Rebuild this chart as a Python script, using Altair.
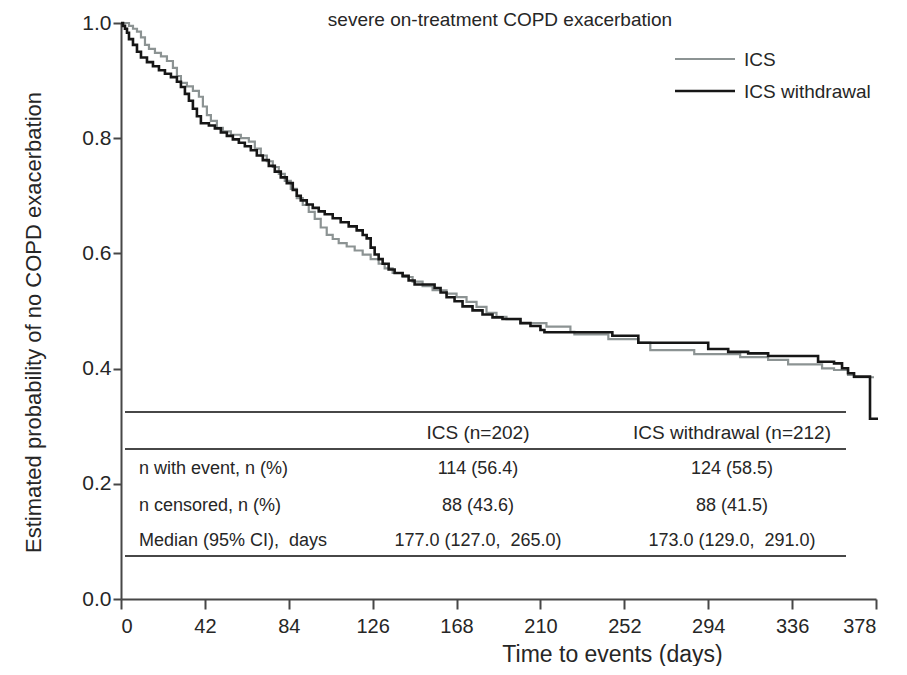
import altair as alt
import pandas as pd

# ---------------- data ----------------
series_names = ["ICS", "ICS withdrawal"]

ics_days = [0, 4, 6, 8, 10, 12, 14, 17, 20, 23, 26, 28, 30, 33, 36, 39, 41, 43, 45, 48,
            51, 55, 60, 64, 67, 70, 73, 76, 79, 82, 85, 88, 91, 94, 97, 100, 103, 106, 109, 113,
            117, 121, 125, 129, 132, 136, 141, 146, 151, 156, 163, 168, 173, 178, 183, 188, 193, 200, 213, 225,
            227, 244, 259, 265, 287, 310, 324, 334, 351, 357, 364, 367, 377]
ics_surv = [1.0, 0.995, 0.99, 0.985, 0.975, 0.962, 0.955, 0.948, 0.942, 0.934,
            0.922, 0.908, 0.896, 0.89, 0.882, 0.872, 0.855, 0.84, 0.83, 0.818,
            0.812, 0.806, 0.8, 0.794, 0.782, 0.77, 0.76, 0.75, 0.738, 0.726,
            0.712, 0.696, 0.684, 0.672, 0.66, 0.645, 0.632, 0.625, 0.618, 0.612,
            0.605, 0.598, 0.59, 0.582, 0.574, 0.566, 0.559, 0.551, 0.543, 0.536,
            0.53, 0.524, 0.516, 0.507, 0.497, 0.49, 0.486, 0.479, 0.473, 0.464,
            0.4595, 0.451, 0.445, 0.432, 0.425, 0.42, 0.415, 0.4075, 0.4005, 0.3976,
            0.389, 0.385, 0.385]

wd_days = [0, 1, 2, 3, 4, 6, 8, 10, 13, 16, 19, 22, 25, 28, 30, 32, 34, 36, 38, 40,
           44, 47, 50, 53, 56, 59, 62, 65, 68, 71, 74, 77, 80, 83, 86, 88, 90, 93, 96, 99,
           102, 106, 110, 114, 118, 121, 123, 125, 127, 129, 131, 134, 137, 141, 144, 147, 157, 160, 163, 167,
           171, 176, 181, 186, 191, 200, 205, 210, 212, 246, 259, 294, 304, 314, 324, 349, 357, 361, 364, 367,
           375, 379]
wd_surv = [1.0, 0.995, 0.99, 0.983, 0.972, 0.962, 0.95, 0.94, 0.932, 0.925,
           0.918, 0.912, 0.906, 0.898, 0.889, 0.877, 0.865, 0.851, 0.838, 0.826,
           0.822, 0.817, 0.81, 0.804, 0.798, 0.792, 0.786, 0.779, 0.77, 0.762,
           0.752, 0.742, 0.732, 0.722, 0.71, 0.7, 0.692, 0.685, 0.679, 0.673,
           0.668, 0.661, 0.654, 0.647, 0.64, 0.632, 0.626, 0.61, 0.598, 0.59,
           0.582, 0.572, 0.566, 0.561, 0.553, 0.546, 0.54, 0.532, 0.524, 0.517,
           0.508, 0.501, 0.494, 0.489, 0.486, 0.479, 0.474, 0.467, 0.463, 0.457,
           0.445, 0.434, 0.429, 0.4265, 0.422, 0.412, 0.409, 0.4005, 0.392, 0.386,
           0.313, 0.313]

x_ticks = [0, 42, 84, 126, 168, 210, 252, 294, 336, 378]
y_ticks = [0.0, 0.2, 0.4, 0.6, 0.8, 1.0]

title_text = "severe on-treatment COPD exacerbation"
x_title = "Time to events (days)"
y_title = "Estimated probability of no COPD exacerbation"

table_header = ["ICS (n=202)", "ICS withdrawal (n=212)"]
row_labels = ["n with event, n (%)", "n censored, n (%)", "Median (95% CI),\u00a0 days"]
ics_col = ["114 (56.4)", "88 (43.6)", "177.0 (127.0,\u00a0 265.0)"]
wd_col = ["124 (58.5)", "88 (41.5)", "173.0 (129.0,\u00a0 291.0)"]

# ---------------- layout / style ----------------
PLOT_W, PLOT_H = 755, 576
X_MAX = 378
FONT = "Liberation Sans"
COLORS = ["#8c9393", "#161616"]
WIDTHS = [2.2, 2.6]
TXT = "#262626"
LINE = "#474747"


def d(px):  # plot-relative pixel -> day
    return px * X_MAX / PLOT_W


def p(py):  # plot-relative pixel -> probability
    return 1 - py / PLOT_H


TABLE_LINE_Y = [389, 426, 533]
TABLE_LINE_X = (4, 725)
HEADER_Y = 410
ROW_Y = [446, 483, 518]
LABEL_X = 18
COL_X = [357, 611]
LEG_Y = [36, 68]
LEG_X = (554, 614)
LEG_TX = 623

color_scale = alt.Scale(domain=series_names, range=COLORS)
width_scale = alt.Scale(domain=series_names, range=WIDTHS)


def X():
    return alt.X("day:Q", scale=alt.Scale(domain=[0, X_MAX], nice=False, zero=False),
                 axis=alt.Axis(values=x_ticks, title=x_title, format="d",
                               tickSize=10, labelPadding=7, titleX=491, titleY=62,
                               titleAlign="center", titleBaseline="alphabetic",
                               titleFontSize=23))


def Y():
    return alt.Y("surv:Q", scale=alt.Scale(domain=[0, 1], nice=False),
                 axis=alt.Axis(values=y_ticks, title=y_title, format=".1f",
                               tickSize=8, labelPadding=2, labelFontSize=21,
                               titleX=-88, titleY=299, titleAngle=-90,
                               titleAlign="center", titleBaseline="middle",
                               titleFontSize=22))


curves = pd.concat([
    pd.DataFrame({"day": ics_days, "surv": ics_surv, "series": series_names[0]}),
    pd.DataFrame({"day": wd_days, "surv": wd_surv, "series": series_names[1]}),
])

lines = alt.Chart(curves).mark_line(interpolate="step-after").encode(
    x=X(), y=Y(),
    color=alt.Color("series:N", scale=color_scale, legend=None),
    strokeWidth=alt.StrokeWidth("series:N", scale=width_scale, legend=None),
    order=alt.Order("day:Q"),
)
ics_layer = lines.transform_filter(alt.datum.series == series_names[0])
wd_layer = lines.transform_filter(alt.datum.series == series_names[1])

# legend (drawn by hand, top right)
leg_df = pd.DataFrame({
    "series": series_names,
    "day": [d(LEG_X[0])] * 2,
    "day2": [d(LEG_X[1])] * 2,
    "lx": [d(LEG_TX)] * 2,
    "surv": [p(v) for v in LEG_Y],
})
leg_lines = alt.Chart(leg_df).mark_rule().encode(
    x=X(), x2="day2:Q", y=Y(),
    color=alt.Color("series:N", scale=color_scale, legend=None),
    strokeWidth=alt.StrokeWidth("series:N", scale=width_scale, legend=None),
)
leg_text = alt.Chart(leg_df).mark_text(
    align="left", baseline="middle", font=FONT, fontSize=19, color=TXT, dy=1
).encode(x=alt.X("lx:Q", scale=alt.Scale(domain=[0, X_MAX], nice=False, zero=False)),
         y=Y(), text="series:N")

# summary table
tl_df = pd.DataFrame({"day": [d(TABLE_LINE_X[0])] * 3, "day2": [d(TABLE_LINE_X[1])] * 3,
                      "surv": [p(v) for v in TABLE_LINE_Y]})
table_lines = alt.Chart(tl_df).mark_rule(color=LINE, strokeWidth=2.2).encode(
    x=X(), x2="day2:Q", y=Y())

hdr_df = pd.DataFrame({"txt": table_header, "day": [d(v) for v in COL_X],
                       "surv": [p(HEADER_Y)] * 2})
hdr = alt.Chart(hdr_df).mark_text(
    align="center", baseline="middle", font=FONT, fontSize=19, color=TXT
).encode(x=X(), y=Y(), text="txt:N")

lab_df = pd.DataFrame({"txt": row_labels, "day": [d(LABEL_X)] * 3,
                       "surv": [p(v) for v in ROW_Y]})
labs = alt.Chart(lab_df).mark_text(
    align="left", baseline="middle", font=FONT, fontSize=18, color=TXT
).encode(x=X(), y=Y(), text="txt:N")

val_df = pd.DataFrame({
    "txt": ics_col + wd_col,
    "day": [d(COL_X[0])] * 3 + [d(COL_X[1])] * 3,
    "surv": [p(v) for v in ROW_Y] * 2,
})
vals = alt.Chart(val_df).mark_text(
    align="center", baseline="middle", font=FONT, fontSize=18, color=TXT
).encode(x=X(), y=Y(), text="txt:N")

# title at the top edge (kept fully visible)
title = alt.Chart(pd.DataFrame({"t": [title_text]})).mark_text(
    align="center", baseline="alphabetic", font=FONT, fontSize=19, color=TXT
).encode(x=alt.value(379), y=alt.value(3), text="t:N")

chart = alt.layer(
    table_lines, hdr, labs, vals, ics_layer, wd_layer, leg_lines, leg_text, title
).properties(
    width=PLOT_W, height=PLOT_H,
    autosize=alt.AutoSizeParams(type="none"),
    padding={"left": 113, "top": 15, "right": 23, "bottom": 67},
    background="white",
).configure_view(stroke=None).configure_axis(
    grid=False,
    domainColor=LINE, domainWidth=2,
    tickColor=LINE, tickWidth=2,
    labelFont=FONT, labelFontSize=20, labelColor=TXT,
    titleFont=FONT, titleFontWeight="normal", titleColor=TXT,
)

chart.save("out.html", embed_options={"renderer": "svg", "actions": False})
